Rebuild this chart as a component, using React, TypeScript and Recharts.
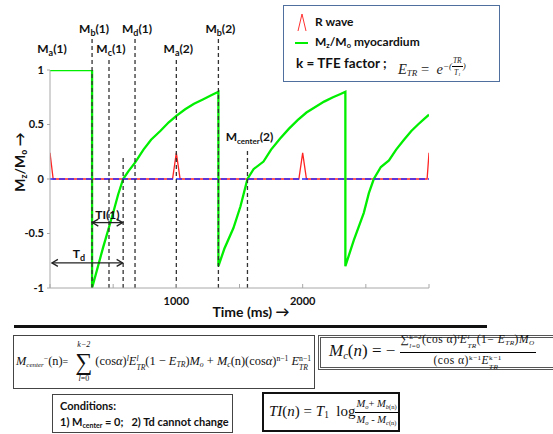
import React from 'react';
import { ComposedChart, Line, XAxis, YAxis, ReferenceLine } from 'recharts';

// ---- data ----
const greenTimes = [0, 333, 333, 380, 420, 460, 500, 540, 579, 620, 673, 740, 800, 873, 940, 1000, 1070, 1140, 1210, 1280, 1333, 1333, 1380, 1452, 1508, 1563, 1611, 1690, 1750, 1820, 1890, 1960, 2030, 2100, 2170, 2240, 2300, 2338, 2338, 2405, 2484, 2524, 2563, 2619, 2683, 2740, 2802, 2860, 2913, 2960, 3000];
const greenValues = [1, 1, -1, -0.8, -0.63, -0.47, -0.31, -0.14, 0, 0.07, 0.15, 0.27, 0.36, 0.44, 0.52, 0.58, 0.64, 0.69, 0.73, 0.77, 0.8, -0.8, -0.64, -0.45, -0.25, 0, 0.09, 0.16, 0.27, 0.37, 0.46, 0.54, 0.61, 0.66, 0.71, 0.75, 0.78, 0.8, -0.8, -0.56, -0.31, -0.13, 0, 0.11, 0.17, 0.27, 0.36, 0.44, 0.5, 0.55, 0.59];
const rWaveTimes = [0, 25, 970, 1000, 1030, 1970, 2000, 2030, 2985, 3000];
const rWaveValues = [0.24, 0, 0, 0.24, 0, 0, 0.24, 0, 0, 0.24];

const xTicks = [0, 500, 1000, 1500, 2000, 2500, 3000];
const xTickLabels = ['', '', '1000', '', '2000', '', ''];
const yTicks = [-1, -0.5, 0, 0.5, 1];
const yTickLabels = ['-1', '-0.5', '0', '0.5', '1'];

const markerSubs = ['a', 'b', 'c', 'd', 'a', 'b', 'center'];
const markerSuffix = ['(1)', '(1)', '(1)', '(1)', '(2)', '(2)', '(2)'];
const markerTimes = [0, 333, 467, 673, 1000, 1333, 1563];
const markerTops = [1.115, 1.3, 1.115, 1.3, 1.115, 1.3, 0.27];
const markerVisible = [false, true, true, true, true, true, true];
const centerTime = 579;
const centerTop = 0.22;

const tiRange = [335, 575];
const tiLevel = -0.4;
const tdRange = [15, 575];
const tdLevel = -0.77;

const greenData = greenTimes.map((t, i) => ({ t, v: greenValues[i] }));
const rData = rWaveTimes.map((t, i) => ({ t, v: rWaveValues[i] }));

const SANS = 'Lato, "Open Sans", sans-serif';
const SERIF = '"Liberation Serif", "DejaVu Serif", serif';

const MarkLabel = (props: any) => {
  const { viewBox, sub, suffix, dy } = props;
  if (!viewBox) return null;
  const x = viewBox.x + 2;
  const y = viewBox.y - dy;
  const small = sub === 'center';
  return (
    <text x={x} y={y} textAnchor="middle" fontFamily={SANS} fontWeight={700} fontSize={12} fill="#111">
      <tspan>M</tspan>
      <tspan dy={3} fontSize={small ? 8 : 9}>{sub}</tspan>
      <tspan dy={-3}>{suffix}</tspan>
    </text>
  );
};

const DoubleArrow = (props: any) => {
  const { x1, y1, x2, y2, kind } = props;
  const w = 6;
  const h = 3.5;
  return (
    <g>
      <line x1={x1} y1={y1} x2={x2} y2={y2} stroke="#222" strokeWidth={1.3} />
      <polyline points={`${x1 + w},${y1 - h} ${x1},${y1} ${x1 + w},${y1 + h}`} fill="none" stroke="#222" strokeWidth={1.3} />
      <polyline points={`${x2 - w},${y2 - h} ${x2},${y2} ${x2 - w},${y2 + h}`} fill="none" stroke="#222" strokeWidth={1.3} />
      {kind === 'ti' ? (
        <text x={(x1 + x2) / 2} y={y1 - 4} textAnchor="middle" fontFamily={SANS} fontWeight={700} fontSize={12} fill="#111">TI(1)</text>
      ) : (
        <text x={x1 + 27} y={y1 - 5} textAnchor="middle" fontFamily={SANS} fontWeight={700} fontSize={12} fill="#111">
          <tspan>T</tspan>
          <tspan dy={3} fontSize={9}>d</tspan>
        </text>
      )}
    </g>
  );
};

const Sb = ({ children, s }: any) => (
  <span style={{ fontSize: s || '0.62em', verticalAlign: '-0.3em', lineHeight: 0 }}>{children}</span>
);
const Sp = ({ children, s }: any) => (
  <span style={{ fontSize: s || '0.62em', verticalAlign: '0.5em', lineHeight: 0 }}>{children}</span>
);
const SubSup = ({ sub, sup }: any) => (
  <span style={{ display: 'inline-flex', flexDirection: 'column', fontSize: '0.62em', lineHeight: 1.25, verticalAlign: '0.55em' }}>
    <span>{sup}</span>
    <span>{sub}</span>
  </span>
);
const Frac = ({ num, den, size, spacing, lh }: any) => (
  <span style={{ display: 'inline-flex', flexDirection: 'column', alignItems: 'center', verticalAlign: 'middle', fontSize: size, lineHeight: lh || 1.2, letterSpacing: spacing || 0 }}>
    <span style={{ borderBottom: '1px solid #000', padding: '0 1px 1px' }}>{num}</span>
    <span style={{ paddingTop: 1 }}>{den}</span>
  </span>
);

export default function App() {
  return (
    <div style={{ position: 'absolute', left: 0, top: 0, width: 553, height: 434, background: '#fff', overflow: 'hidden' }}>
      <div style={{ position: 'absolute', left: 0, top: 0 }}>
        <ComposedChart width={553} height={434} margin={{ top: 70, right: 124, bottom: 116, left: 10 }}>
          <XAxis
            type="number"
            dataKey="t"
            domain={[0, 3000]}
            allowDataOverflow
            ticks={xTicks}
            interval={0}
            tickFormatter={(v: number) => xTickLabels[xTicks.indexOf(v)] ?? ''}
            height={30}
            axisLine={{ stroke: '#a8a8a8' }}
            tickLine={{ stroke: '#a8a8a8' }}
            tickSize={-4}
            tickMargin={13}
            tick={{ fontSize: 11, fontWeight: 700, fill: '#111', fontFamily: SANS }}
          />
          <YAxis
            type="number"
            domain={[-1, 1]}
            allowDataOverflow
            ticks={yTicks}
            interval={0}
            tickFormatter={(v: number) => yTickLabels[yTicks.indexOf(v)] ?? ''}
            width={40}
            axisLine={{ stroke: '#a8a8a8' }}
            tickLine={{ stroke: '#a8a8a8' }}
            tickSize={3}
            tickMargin={3}
            tick={{ fontSize: 11, fontWeight: 700, fill: '#111', fontFamily: SANS }}
          />
          <Line data={rData} dataKey="v" type="linear" stroke="#ff2424" strokeWidth={1.3} dot={false} activeDot={false} isAnimationActive={false} />
          <Line data={greenData} dataKey="v" type="linear" stroke="#00ee00" strokeWidth={2.3} dot={false} activeDot={false} isAnimationActive={false} />
          <ReferenceLine y={0} stroke="#2a2aff" strokeWidth={1.6} strokeDasharray="6 3" ifOverflow="visible" />
          {markerTimes.map((t, i) => (
            <ReferenceLine
              key={'m' + i}
              segment={[{ x: t, y: -1 }, { x: t, y: markerTops[i] }]}
              stroke={markerVisible[i] ? '#333' : 'none'}
              strokeWidth={1.3}
              strokeDasharray="4 3"
              ifOverflow="visible"
              label={<MarkLabel sub={markerSubs[i]} suffix={markerSuffix[i]} dy={markerSubs[i] === 'center' ? 9 : 4} />}
            />
          ))}
          <ReferenceLine
            segment={[{ x: centerTime, y: -1 }, { x: centerTime, y: centerTop }]}
            stroke="#333"
            strokeWidth={1.3}
            strokeDasharray="4 3"
            ifOverflow="visible"
          />
          <ReferenceLine
            segment={[{ x: tiRange[0], y: tiLevel }, { x: tiRange[1], y: tiLevel }]}
            ifOverflow="visible"
            shape={(p: any) => <DoubleArrow {...p} kind="ti" />}
          />
          <ReferenceLine
            segment={[{ x: tdRange[0], y: tdLevel }, { x: tdRange[1], y: tdLevel }]}
            ifOverflow="visible"
            shape={(p: any) => <DoubleArrow {...p} kind="td" />}
          />
        </ComposedChart>
      </div>

      {/* y axis title */}
      <div style={{ position: 'absolute', left: 19, top: 162, transform: 'translate(-50%, -50%) rotate(-90deg)', fontFamily: SANS, fontWeight: 700, fontSize: 14, whiteSpace: 'nowrap', color: '#111' }}>
        M<Sb>z</Sb>/M<Sb>o</Sb> →
      </div>
      {/* x axis title */}
      <div style={{ position: 'absolute', left: 251, top: 311, transform: 'translate(-50%, -50%)', fontFamily: SANS, fontWeight: 700, fontSize: 14, whiteSpace: 'nowrap', color: '#111' }}>
        Time (ms) →
      </div>

      {/* legend box */}
      <div style={{ position: 'absolute', left: 283, top: 5, width: 217, height: 77, border: '1.5px solid #4f6f9f', boxSizing: 'border-box', background: '#fff' }}>
        <svg style={{ position: 'absolute', left: 12, top: 7 }} width={12} height={19}>
          <polyline points="2,18 6,1 10,18" fill="none" stroke="#ff3030" strokeWidth={1} />
        </svg>
        <div style={{ position: 'absolute', left: 31, top: 9, fontFamily: SANS, fontWeight: 700, fontSize: 12, lineHeight: '14px', color: '#111' }}>R wave</div>
        <div style={{ position: 'absolute', left: 11, top: 36, width: 13, height: 2, background: '#00ee00' }} />
        <div style={{ position: 'absolute', left: 31, top: 29, fontFamily: SANS, fontWeight: 700, fontSize: 12, lineHeight: '14px', color: '#111', whiteSpace: 'nowrap' }}>
          M<Sb>z</Sb>/M<Sb>o</Sb> myocardium
        </div>
        <div style={{ position: 'absolute', left: 12, top: 49, fontFamily: SANS, fontWeight: 700, fontSize: 13.5, lineHeight: '16px', color: '#111', whiteSpace: 'nowrap' }}>
          k = TFE factor ;
        </div>
        <div style={{ position: 'absolute', left: 114, top: 50, fontFamily: SERIF, fontStyle: 'italic', fontSize: 14.5, lineHeight: '16px', color: '#222', whiteSpace: 'nowrap' }}>
          E<Sb s={9}>TR</Sb> <span style={{ fontStyle: 'normal' }}>=</span>&nbsp; e
          <span style={{ display: 'inline-block', verticalAlign: '0.55em', fontSize: 9, lineHeight: 1 }}>
            −(<Frac size={7.5} num="TR" den={<span>T<Sb>1</Sb></span>} />)
          </span>
        </div>
      </div>

      {/* horizontal rule */}
      <div style={{ position: 'absolute', left: 14, top: 325, width: 473, height: 2.5, background: '#111' }} />

      {/* formula box 1 */}
      <div style={{ position: 'absolute', left: 13, top: 335, width: 302, height: 54, border: '1px solid #444', boxSizing: 'border-box', display: 'flex', alignItems: 'center', fontFamily: SERIF, fontSize: 12.4, whiteSpace: 'nowrap', paddingLeft: 2, color: '#111', overflow: 'hidden' }}>
        <span>
          <i>M</i><Sb s={7}><i>center</i></Sb><Sp>−</Sp>(n)<span style={{ fontSize: 10 }}>=</span>
          <span style={{ display: 'inline-flex', flexDirection: 'column', alignItems: 'center', verticalAlign: 'middle', margin: '0 3px 0 7px' }}>
            <span style={{ fontSize: 8, fontStyle: 'italic', lineHeight: '10px' }}>k−2</span>
            <span style={{ fontSize: 24, lineHeight: '24px' }}>∑</span>
            <span style={{ fontSize: 8, lineHeight: '10px' }}><i>l</i>=0</span>
          </span>
          (cos<i>α</i>)<Sp><i>l</i></Sp><i>E</i><SubSup sub={<i>TR</i>} sup={<i>l</i>} />(1 − <i>E</i><Sb><i>TR</i></Sb>)<i>M</i><Sb><i>o</i></Sb> + <i>M</i><Sb><i>c</i></Sb>(n)(cos<i>α</i>)<Sp>n−1</Sp> <i>E</i><SubSup sub={<i>TR</i>} sup="n−1" />
        </span>
      </div>

      {/* formula box 2 */}
      <div style={{ position: 'absolute', left: 318, top: 335, width: 250, height: 35, border: '3px double #555', boxSizing: 'border-box', display: 'flex', alignItems: 'center', fontFamily: SERIF, fontSize: 17, whiteSpace: 'nowrap', paddingLeft: 8, color: '#111' }}>
        <span>
          <i>M</i><Sb><i>c</i></Sb>(<i>n</i>) = −&nbsp;<Frac
            size={11.5}
            spacing={0.5}
            lh={1.0}
            num={<span>∑<SubSup sub={<span><i>l</i>=0</span>} sup="k−2" />(cos α)<Sp><i>l</i></Sp><i>E</i><SubSup sub={<i>TR</i>} sup={<i>l</i>} />(1− <i>E</i><Sb><i>TR</i></Sb>)<i>M</i><Sb><i>O</i></Sb></span>}
            den={<span>(cos α)<Sp>k−1</Sp><i>E</i><SubSup sub={<i>TR</i>} sup="k−1" /></span>}
          />
        </span>
      </div>

      {/* conditions box */}
      <div style={{ position: 'absolute', left: 52, top: 394, width: 181, height: 39, border: '1px solid #444', boxSizing: 'border-box', fontFamily: SANS, fontWeight: 700, fontSize: 11, color: '#111', whiteSpace: 'nowrap', paddingLeft: 7 }}>
        <div style={{ position: 'absolute', left: 7, top: 4, lineHeight: '13px' }}>Conditions:</div>
        <div style={{ position: 'absolute', left: 7, top: 20, lineHeight: '13px' }}>
          1) M<Sb s={7}>center</Sb> = 0;&nbsp;&nbsp; 2) Td cannot change
        </div>
      </div>

      {/* TI box */}
      <div style={{ position: 'absolute', left: 262, top: 392, width: 138, height: 40, border: '2.5px solid #111', boxSizing: 'border-box', display: 'flex', alignItems: 'center', fontFamily: SERIF, fontSize: 15, whiteSpace: 'nowrap', paddingLeft: 5, color: '#111' }}>
        <span>
          <i>TI</i>(<i>n</i>) = <i>T</i><Sb>1</Sb>&nbsp; log<Frac
            size={10.5}
            num={<span><i>M</i><Sb><i>o</i></Sb>+ <i>M</i><Sb><i>b</i>(n)</Sb></span>}
            den={<span><i>M</i><Sb><i>o</i></Sb> - <i>M</i><Sb><i>c</i>(n)</Sb></span>}
          />
        </span>
      </div>
    </div>
  );
}
